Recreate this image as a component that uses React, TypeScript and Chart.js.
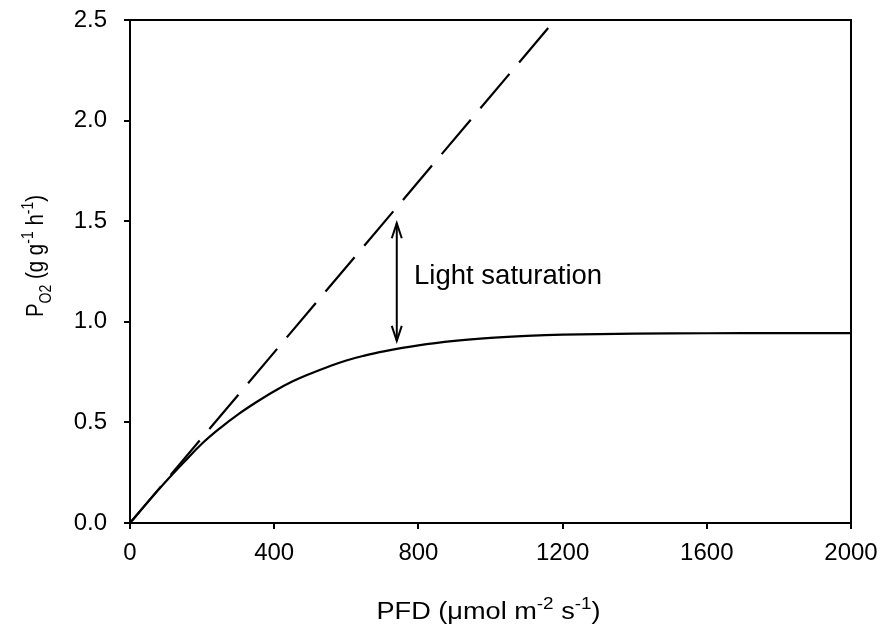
import React, { useEffect, useRef } from 'react';
import { Chart, registerables } from 'chart.js';

Chart.register(...registerables);

// ---- data ----
const PFD = [0, 50, 100, 150, 200, 250, 300, 350, 400, 450, 500, 550, 600, 650, 700, 800, 900, 1000, 1100, 1200, 1400, 1600, 1800, 2000];
const P_O2 = [0, 0.105, 0.207, 0.303, 0.395, 0.472, 0.54, 0.6, 0.655, 0.703, 0.742, 0.777, 0.808, 0.832, 0.852, 0.883, 0.905, 0.92, 0.93, 0.936, 0.941, 0.943, 0.944, 0.944];
const SLOPE_PFD = [0, 1160];
const SLOPE_P = [0, 2.46];
const X_TICKS = [0, 400, 800, 1200, 1600, 2000];
const Y_TICKS = [0, 0.5, 1.0, 1.5, 2.0, 2.5];
const ARROW_PFD = 740;
const ARROW_TOP = 1.49;
const ARROW_BOTTOM = 0.905;
const ANNOTATION = 'Light saturation';
const ANNOT_PFD = 788;
const ANNOT_P = 1.19;

const FONT = "'Liberation Sans', Arial, sans-serif";

type Seg = { t: string; k?: 'sup' | 'sub' };
const X_TITLE: Seg[] = [{ t: 'PFD (\u03bcmol m' }, { t: '-2', k: 'sup' }, { t: ' s' }, { t: '-1', k: 'sup' }, { t: ')' }];
const Y_TITLE: Seg[] = [{ t: 'P' }, { t: 'O2', k: 'sub' }, { t: ' (g g' }, { t: '-1', k: 'sup' }, { t: ' h' }, { t: '-1', k: 'sup' }, { t: ')' }];

function drawRich(ctx: CanvasRenderingContext2D, segs: Seg[], cx: number, baseY: number, size: number, subDrop: number) {
  const small = Math.round(size * 0.68);
  const fontFor = (s: Seg) => `${s.k ? small : size}px ${FONT}`;
  let total = 0;
  for (const s of segs) {
    ctx.font = fontFor(s);
    total += ctx.measureText(s.t).width;
  }
  let x = cx - total / 2;
  ctx.textAlign = 'left';
  ctx.textBaseline = 'alphabetic';
  for (const s of segs) {
    ctx.font = fontFor(s);
    const dy = s.k === 'sup' ? -size * 0.42 : s.k === 'sub' ? subDrop : 0;
    ctx.fillText(s.t, x, baseY + dy);
    x += ctx.measureText(s.t).width;
  }
}

const extrasPlugin = {
  id: 'extras',
  afterDatasetsDraw(chart: any) {
    const { ctx, chartArea, scales } = chart;
    const xs = scales.x;
    const ys = scales.y;
    ctx.save();
    // frame (top & right)
    ctx.strokeStyle = '#000';
    ctx.lineWidth = 2;
    ctx.beginPath();
    ctx.moveTo(chartArea.left, chartArea.top);
    ctx.lineTo(chartArea.right, chartArea.top);
    ctx.lineTo(chartArea.right, chartArea.bottom);
    ctx.stroke();

    // double arrow
    const ax = xs.getPixelForValue(ARROW_PFD);
    const at = ys.getPixelForValue(ARROW_TOP);
    const ab = ys.getPixelForValue(ARROW_BOTTOM);
    ctx.lineWidth = 2;
    ctx.beginPath();
    ctx.moveTo(ax, at);
    ctx.lineTo(ax, ab);
    ctx.stroke();
    const hl = 15, hw = 5;
    ctx.beginPath();
    ctx.moveTo(ax - hw, at + hl);
    ctx.lineTo(ax, at);
    ctx.lineTo(ax + hw, at + hl);
    ctx.moveTo(ax - hw, ab - hl);
    ctx.lineTo(ax, ab);
    ctx.lineTo(ax + hw, ab - hl);
    ctx.stroke();

    // annotation text
    ctx.fillStyle = '#000';
    ctx.font = `27.5px ${FONT}`;
    ctx.textAlign = 'left';
    ctx.textBaseline = 'alphabetic';
    ctx.fillText(ANNOTATION, xs.getPixelForValue(ANNOT_PFD), ys.getPixelForValue(ANNOT_P));

    // x axis title (slightly widened like the reference)
    const midX = (chartArea.left + chartArea.right) / 2;
    ctx.save();
    ctx.translate(midX - 2, 619);
    ctx.scale(1.18, 1);
    drawRich(ctx, X_TITLE, 0, 0, 23, 7);
    ctx.restore();

    // y axis title
    ctx.save();
    ctx.translate(43, 256);
    ctx.rotate(-Math.PI / 2);
    ctx.scale(1, 1.18);
    drawRich(ctx, Y_TITLE, 0, 0, 20.5, 7);
    ctx.restore();
    ctx.restore();
  },
};

const zeroPad = (s: any) => {
  s.paddingTop = 0;
  s.paddingBottom = 0;
  s.paddingLeft = 0;
  s.paddingRight = 0;
};

export default function App() {
  const ref = useRef<HTMLCanvasElement | null>(null);
  useEffect(() => {
    document.body.style.margin = '0';
    const canvas = ref.current!;
    const tickFont = { family: FONT, size: 24 };
    const slopePts = SLOPE_PFD.map((x, i) => ({ x, y: SLOPE_P[i] })).reverse();
    const chart = new Chart(canvas, {
      type: 'line',
      data: {
        datasets: [
          {
            data: PFD.map((x, i) => ({ x, y: P_O2[i] })),
            borderColor: '#000',
            borderWidth: 2.2,
            pointRadius: 0,
            tension: 0.4,
            fill: false,
          },
          {
            data: slopePts,
            borderColor: '#000',
            borderWidth: 2.2,
            borderDash: [45, 15],
            pointRadius: 0,
            fill: false,
          },
        ],
      },
      options: {
        responsive: false,
        animation: false,
        layout: { padding: { left: 0, right: 32, top: 20, bottom: 0 } },
        plugins: { legend: { display: false }, tooltip: { enabled: false } },
        scales: {
          x: {
            type: 'linear',
            min: 0,
            max: 2000,
            afterFit: (s: any) => { s.height = 107; zeroPad(s); },
            afterBuildTicks: (s: any) => { s.ticks = X_TICKS.map((v) => ({ value: v })); },
            grid: { display: true, drawOnChartArea: false, drawTicks: true, tickLength: 6, color: '#000', lineWidth: 2 },
            border: { display: true, color: '#000', width: 2 },
            ticks: { color: '#000', font: tickFont, padding: 10, maxRotation: 0, autoSkip: false, callback: (v: any) => String(v) },
          },
          y: {
            type: 'linear',
            min: 0,
            max: 2.5,
            afterFit: (s: any) => { s.width = 130; zeroPad(s); },
            afterBuildTicks: (s: any) => { s.ticks = Y_TICKS.map((v) => ({ value: v })); },
            grid: { display: true, drawOnChartArea: false, drawTicks: true, tickLength: 6, color: '#000', lineWidth: 2 },
            border: { display: true, color: '#000', width: 2 },
            ticks: { color: '#000', font: tickFont, padding: 17, autoSkip: false, callback: (v: any) => Number(v).toFixed(1) },
          },
        },
      },
      plugins: [extrasPlugin],
    } as any);
    return () => chart.destroy();
  }, []);
  return <canvas ref={ref} width={883} height={630} style={{ display: 'block', width: 883, height: 630 }} />;
}
